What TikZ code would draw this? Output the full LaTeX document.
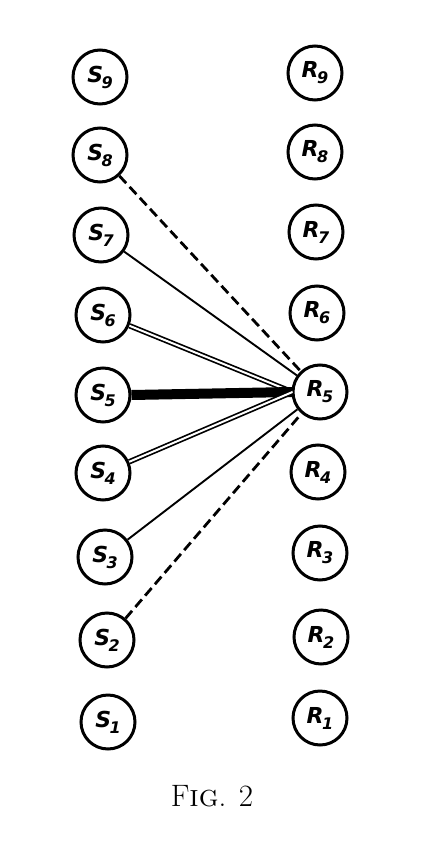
\documentclass[tikz,border=0pt]{standalone}
\usepackage{fontspec}
\newfontfamily\handfont{DejaVu Sans}
\usetikzlibrary{calc}
\newcommand{\lab}[2]{{\handfont\bfseries\itshape\fontsize{22}{24}\selectfont #1\kern-1.5pt\raisebox{-6pt}{\fontsize{16}{17}\selectfont #2}}}
\begin{document}
\begin{tikzpicture}[x=1pt,y=1pt,
  unit/.style={circle,draw,line width=3pt,minimum size=54pt,inner sep=0pt},
  thinlink/.style={line width=1.9pt},
  dashlink/.style={line width=2.8pt,dash pattern=on 10pt off 5pt},
  doublelink/.style={line width=1.7pt,double,double distance=2pt},
  heavylink/.style={line width=10pt}]
\useasboundingbox (0,0) rectangle (427,-848);
\node[unit] (S9) at (100,-77) {\lab{S}{9}};
\node[unit] (S8) at (100,-155) {\lab{S}{8}};
\node[unit] (S7) at (101,-235) {\lab{S}{7}};
\node[unit] (S6) at (103,-315) {\lab{S}{6}};
\node[unit] (S5) at (103,-395) {\lab{S}{5}};
\node[unit] (S4) at (103,-473) {\lab{S}{4}};
\node[unit] (S3) at (105,-557) {\lab{S}{3}};
\node[unit] (S2) at (107,-640) {\lab{S}{2}};
\node[unit] (S1) at (108,-722) {\lab{S}{1}};
\node[unit] (R9) at (315,-73) {\lab{R}{9}};
\node[unit] (R8) at (315,-152) {\lab{R}{8}};
\node[unit] (R7) at (316,-232) {\lab{R}{7}};
\node[unit] (R6) at (317,-313) {\lab{R}{6}};
\node[unit] (R5) at (320,-392) {\lab{R}{5}};
\node[unit] (R4) at (318,-472) {\lab{R}{4}};
\node[unit] (R3) at (320,-553) {\lab{R}{3}};
\node[unit] (R2) at (321,-637) {\lab{R}{2}};
\node[unit] (R1) at (320,-718) {\lab{R}{1}};
\coordinate (hub) at ($(R5.west)+(1,0)$);
\draw[dashlink] (S8) -- (R5);
\draw[thinlink] (S7) -- (R5);
\draw[doublelink] (S6) -- (hub);
\draw[heavylink] (S5.east) -- (hub);
\draw[doublelink] (S4) -- (hub);
\draw[thinlink] (S3) -- (R5);
\draw[dashlink] (S2) -- (R5);
\node (cap) at (212,-796) {\fontsize{31}{34}\selectfont F\textsc{ig}. 2};
\end{tikzpicture}
\end{document}
